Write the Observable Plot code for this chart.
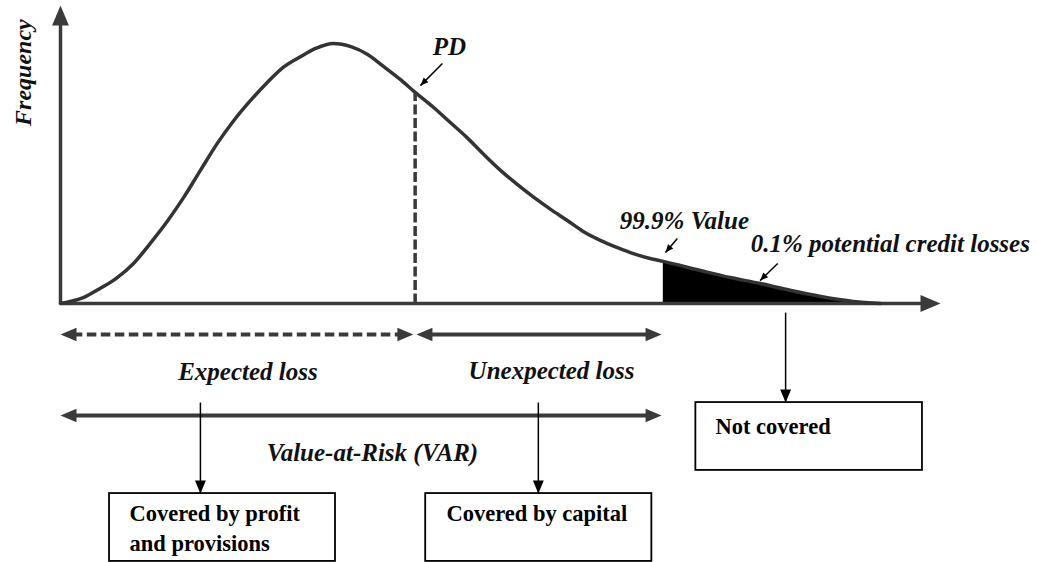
<!DOCTYPE html>
<html><head><meta charset="utf-8">
<script src="https://cdn.jsdelivr.net/npm/d3@7"></script>
<script src="https://cdn.jsdelivr.net/npm/@observablehq/plot@0.6"></script>
<style>html,body{margin:0;padding:0;background:#fff;} #chart svg{display:block} #chart svg text{font-family:"Liberation Serif","Times New Roman",serif !important;}</style>
</head><body><div id="chart"></div>
<script>
// ---- data: loss distribution (loss in % of axis length, frequency relative to peak)
const lossX = [0,1.1,2.6,4.5,6.3,8.3,10.2,12.2,14.0,15.9,17.8,19.7,21.6,23.5,25.3,27.3,29.0,31.0,33.0,34.9,36.7,38.6,40.3,42.4,44.3,46.2,48.1,50.0,51.9,53.8,55.7,57.6,59.4,61.4,63.3,65.1,67.0,68.5,72.7,76.1,79.5,83.0,86.4,90.1,93.2];
const frequency = [0,0.008,0.023,0.058,0.096,0.154,0.231,0.319,0.408,0.512,0.615,0.704,0.781,0.85,0.908,0.95,0.981,1.0,0.988,0.958,0.912,0.862,0.812,0.754,0.696,0.638,0.573,0.512,0.458,0.408,0.362,0.319,0.277,0.242,0.215,0.192,0.173,0.162,0.127,0.1,0.077,0.05,0.027,0.008,0];
const PD = 40.3;        // expected loss boundary
const VAR = 68.5;       // 99.9% value
const X_MAX = 100;      // end of loss axis
const Y_MAX = 1.146;    // end of frequency axis
const curveLabels = ["Frequency", "PD", "99.9% Value", "0.1% potential credit losses"];
const rangeLabels = ["Expected loss", "Unexpected loss", "Value-at-Risk (VAR)"];
const boxLabels = ["Covered by profit", "and provisions", "Covered by capital", "Not covered"];

// ---- derived tables
const curve = lossX.map((x, i) => ({x, y: frequency[i]}));
const tail = curve.filter(d => d.x >= VAR);
const fAt = x => frequency[lossX.indexOf(x)];

// layout (in loss / frequency units)
const yRange = -0.119, yVar = -0.431, yBoxTop = -0.731, yBoxBot = -0.992, yNcTop = -0.381, yNcBot = -0.642;
const lineStart = 15.9, lineCap = 54.3, lineNc = 82.4;

const thick = [
  {x1: 0, y1: 0, x2: 0, y2: Y_MAX - 0.05},
  {x1: 0, y1: 0, x2: X_MAX - 2, y2: 0}
];
const rangeSolid = [
  {x1: PD + 1.0, y1: yRange, x2: VAR - 1.0, y2: yRange},
  {x1: 1.0, y1: yVar, x2: VAR - 1.0, y2: yVar}
];
const rangeDashed = [{x1: 1.4, y1: yRange, x2: PD - 1.2, y2: yRange}];
const thin = [
  {x1: lineStart, y1: yVar + 0.05, x2: lineStart, y2: yBoxTop},
  {x1: lineCap, y1: yVar + 0.05, x2: lineCap, y2: yBoxTop},
  {x1: lineNc, y1: -0.035, x2: lineNc, y2: yNcTop},
  {x1: 43.4, y1: 0.923, x2: 40.9, y2: 0.838},
  {x1: 70.1, y1: 0.25, x2: 68.75, y2: 0.196},
  {x1: 81.5, y1: 0.154, x2: 79.5, y2: 0.088}
];
const bigHeads = [
  {x: 0, y: Y_MAX, rot: 0},
  {x: X_MAX, y: 0, rot: 90}
];
const midHeads = [
  {x: 0, y: yRange, rot: 270}, {x: PD - 0.2, y: yRange, rot: 90},
  {x: PD + 0.15, y: yRange, rot: 270}, {x: VAR - 0.2, y: yRange, rot: 90},
  {x: 0, y: yVar, rot: 270}, {x: VAR - 0.2, y: yVar, rot: 90}
];
const thinHeads = [
  {x: lineStart, y: yBoxTop, rot: 180},
  {x: lineCap, y: yBoxTop, rot: 180},
  {x: lineNc, y: yNcTop, rot: 180}
];
const tinyHeads = [
  {x: 40.9, y: 0.838, rot: 225},
  {x: 68.75, y: 0.196, rot: 220},
  {x: 79.5, y: 0.088, rot: 225}
];
const boxes = [
  {x1: 5.57, x2: 31.25, y1: yBoxTop, y2: yBoxBot},
  {x1: 41.5, x2: 67.2, y1: yBoxTop, y2: yBoxBot},
  {x1: 72.2, x2: 97.95, y1: yNcTop, y2: yNcBot}
];
const italicText = [
  {t: curveLabels[1], x: 44.2, y: 0.954},
  {t: curveLabels[2], x: 70.9, y: 0.288},
  {t: curveLabels[3], x: 94.3, y: 0.2},
  {t: rangeLabels[0], x: 21.3, y: -0.296},
  {t: rangeLabels[1], x: 55.8, y: -0.292},
  {t: rangeLabels[2], x: 35.45, y: -0.604}
];
const boxText = [
  {t: boxLabels[0], x: 7.84, y: -0.835},
  {t: boxLabels[1], x: 7.84, y: -0.952},
  {t: boxLabels[2], x: 43.86, y: -0.835},
  {t: boxLabels[3], x: 74.43, y: -0.5}
];

const head = {draw(ctx, size) {
  const r = Math.sqrt(size / Math.PI);
  ctx.moveTo(0, 0); ctx.lineTo(-0.42 * r, r); ctx.lineTo(0.42 * r, r); ctx.closePath();
}};
const FONT = "Liberation Serif";
const AX = "#3a3a3a";

const chart = Plot.plot({
  width: 1037, height: 562,
  marginTop: 0, marginRight: 0, marginBottom: 0, marginLeft: 0,
  x: {domain: [0, 100], range: [60, 940]},
  y: {domain: [0, 1], range: [303, 43]},
  axis: null,
  style: {background: "#fff", fontFamily: FONT},
  marks: [
    Plot.areaY(tail, {x: "x", y: "y", fill: "#000", curve: "monotone-x"}),
    Plot.link(thick, {x1: "x1", y1: "y1", x2: "x2", y2: "y2", stroke: AX, strokeWidth: 3.5}),
    Plot.line(curve, {x: "x", y: "y", stroke: "#333", strokeWidth: 3.5, curve: "monotone-x"}),
    Plot.link([{x1: PD, y1: 0, x2: PD, y2: fAt(PD)}], {x1: "x1", y1: "y1", x2: "x2", y2: "y2", stroke: AX, strokeWidth: 3.5, strokeDasharray: "10,3.5"}),
    Plot.link(rangeSolid, {x1: "x1", y1: "y1", x2: "x2", y2: "y2", stroke: AX, strokeWidth: 4}),
    Plot.link(rangeDashed, {x1: "x1", y1: "y1", x2: "x2", y2: "y2", stroke: AX, strokeWidth: 4, strokeDasharray: "9.5,4.5"}),
    Plot.rect(boxes, {x1: "x1", x2: "x2", y1: "y1", y2: "y2", fill: "#fff", stroke: "#000", strokeWidth: 1.8}),
    Plot.link(thin, {x1: "x1", y1: "y1", x2: "x2", y2: "y2", stroke: "#000", strokeWidth: 1.5}),
    Plot.dot(bigHeads, {x: "x", y: "y", rotate: "rot", symbol: head, r: 20, fill: AX, stroke: null}),
    Plot.dot(midHeads, {x: "x", y: "y", rotate: "rot", symbol: head, r: 16, fill: AX, stroke: null}),
    Plot.dot(thinHeads, {x: "x", y: "y", rotate: "rot", symbol: head, r: 13, fill: "#000", stroke: null}),
    Plot.dot(tinyHeads, {x: "x", y: "y", rotate: "rot", symbol: head, r: 8, fill: "#000", stroke: null}),
    Plot.text([curveLabels[0]], {x: -4.2, y: 0.888, text: d => d, rotate: -90, textAnchor: "middle", lineAnchor: "middle",
      fontFamily: FONT, fontSize: 24, fontStyle: "italic", fontWeight: "bold", fill: "#111"}),
    Plot.text(italicText, {x: "x", y: "y", text: "t", textAnchor: "middle", lineAnchor: "bottom",
      fontFamily: FONT, fontSize: 25, fontStyle: "italic", fontWeight: "bold", fill: "#111"}),
    Plot.text(boxText, {x: "x", y: "y", text: "t", textAnchor: "start", lineAnchor: "bottom",
      fontFamily: FONT, fontSize: 22.5, fontWeight: "bold", fill: "#000"})
  ]
});
document.getElementById("chart").appendChild(chart);
</script>
</body></html>
